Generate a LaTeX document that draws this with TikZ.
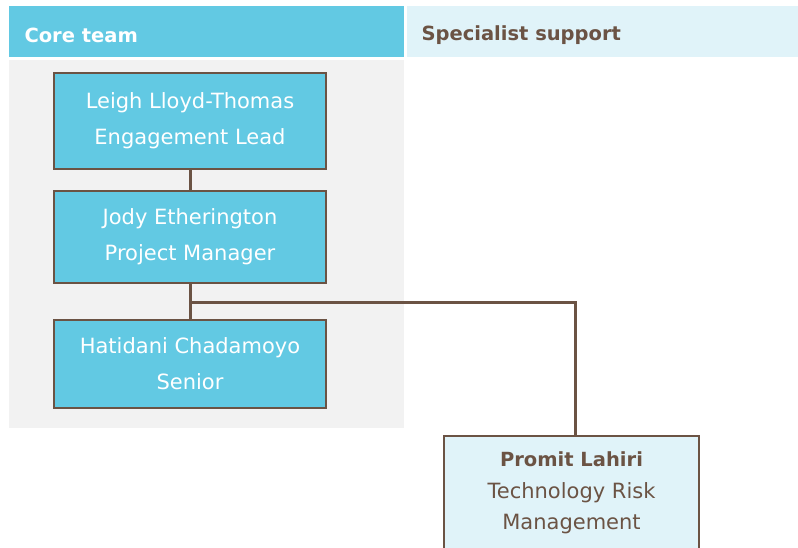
\documentclass[tikz,border=0pt]{standalone}
\usepackage{fontspec}
\setmainfont{DejaVu Sans}
\usetikzlibrary{positioning}
\definecolor{teamblue}{HTML}{62C9E3}
\definecolor{paleblue}{HTML}{E0F3F9}
\definecolor{linebrown}{HTML}{6B5344}
\definecolor{panelgrey}{HTML}{F2F2F2}

\begin{document}
\begin{tikzpicture}[x=1pt, y=-1pt,
	header/.style = {anchor=west, font=\bfseries\fontsize{19.5}{22}\selectfont},
	member/.style = {shape=rectangle, draw=linebrown, line width=2pt, fill=teamblue,
		text=white, align=center, minimum width=272pt, font=\fontsize{21}{36}\selectfont},
	support/.style = {member, fill=paleblue, text=linebrown, minimum width=255pt,
		font=\fontsize{21}{31.5}\selectfont},
	link/.style = {draw=linebrown, line width=3pt}]
	\clip (0,0) rectangle (798,547);
	\fill[white] (0,0) rectangle (798,547);
	\fill[teamblue] (9,6) rectangle (404,57);
	\fill[paleblue] (407,6) rectangle (798,57);
	\fill[panelgrey] (9,60) rectangle (404,428);
	\node[header, text=white] (core) at (21,35) {Core team};
	\node[header, text=linebrown] (spec) at (418,35) {Specialist support};
	\node[member, minimum height=96pt] (lead) at (190,121) {Leigh Lloyd-Thomas\\Engagement Lead};
	\node[member, minimum height=92pt] (pm) at (190,237) {Jody Etherington\\Project Manager};
	\node[member, minimum height=88pt] (senior) at (190,364) {Hatidani Chadamoyo\\Senior};
	\node[support, minimum height=114pt, anchor=north] (promit) at (571.5,435)
		{{\bfseries\fontsize{19.5}{31.5}\selectfont Promit Lahiri}\\Technology Risk\\Management};
	\coordinate (split) at (190,302);
	\draw[link] (lead) -- (pm);
	\draw[link] (pm) -- (senior);
	\draw[link] (split) -| ([xshift=3.5pt]promit.north);
\end{tikzpicture}
\end{document}
